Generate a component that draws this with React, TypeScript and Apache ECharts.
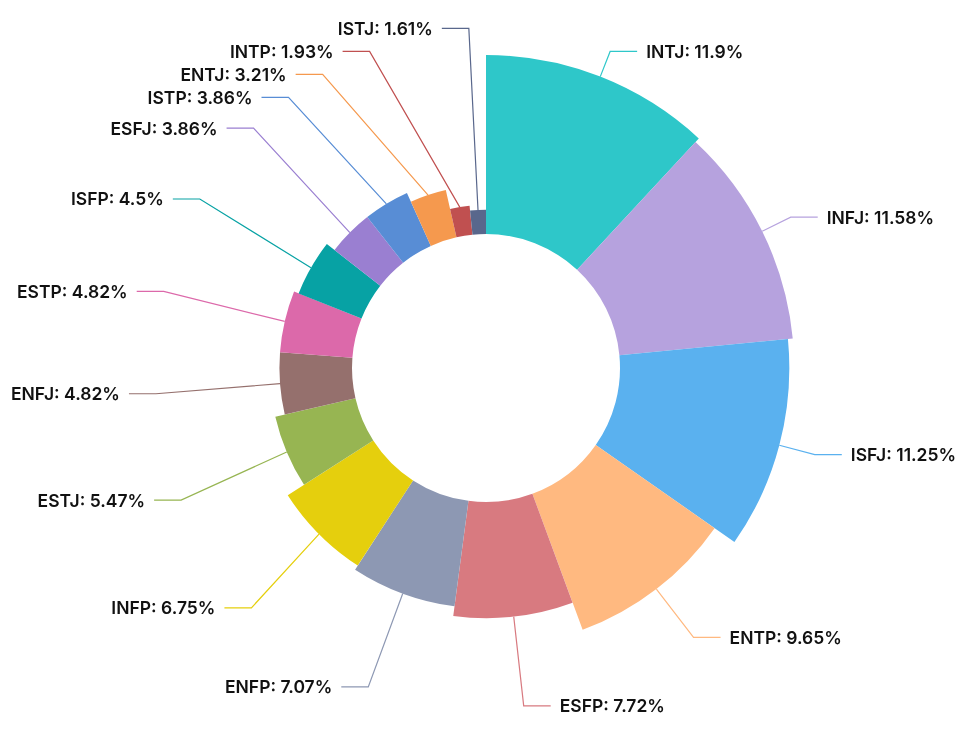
import React, { useEffect, useRef } from "react";
import * as echarts from "echarts";

const types = [
  "INTJ", "INFJ", "ISFJ", "ENTP", "ESFP", "ENFP", "INFP", "ESTJ",
  "ENFJ", "ESTP", "ISFP", "ESFJ", "ISTP", "ENTJ", "INTP", "ISTJ",
];
const counts = [37, 36, 35, 30, 24, 22, 21, 17, 15, 15, 14, 12, 12, 10, 6, 5];
const palette = [
  "#2ec7c9", "#b6a2de", "#5ab1ef", "#ffb980", "#d87a80", "#8d98b3",
  "#e5cf0d", "#97b552", "#95706d", "#dc69aa", "#07a2a4", "#9a7fd1",
  "#588dd5", "#f5994e", "#c05050", "#59678c",
];

export default function App() {
  const ref = useRef<HTMLDivElement>(null);
  useEffect(() => {
    if (!ref.current) return;
    const chart = echarts.init(ref.current, null, { renderer: "svg" });
    chart.setOption({
      animation: false,
      color: palette,
      series: [
        {
          type: "pie",
          roseType: "radius",
          center: [486, 368],
          radius: [134, 313],
          data: types.map((t, i) => ({ name: t, value: counts[i] })),
          label: {
            formatter: "{b}: {d}%",
            color: "#111",
            fontSize: 17.5,
            lineHeight: 21,
            fontWeight: 600,
            fontFamily: "Inter",
            distanceToLabelLine: 9,
          },
          labelLine: { length: 27, length2: 27, lineStyle: { width: 1.2 } },
        },
      ],
    });
    return () => chart.dispose();
  }, []);
  return (
    <div
      ref={ref}
      style={{ position: "fixed", left: 0, top: 0, width: 967, height: 732 }}
    />
  );
}
